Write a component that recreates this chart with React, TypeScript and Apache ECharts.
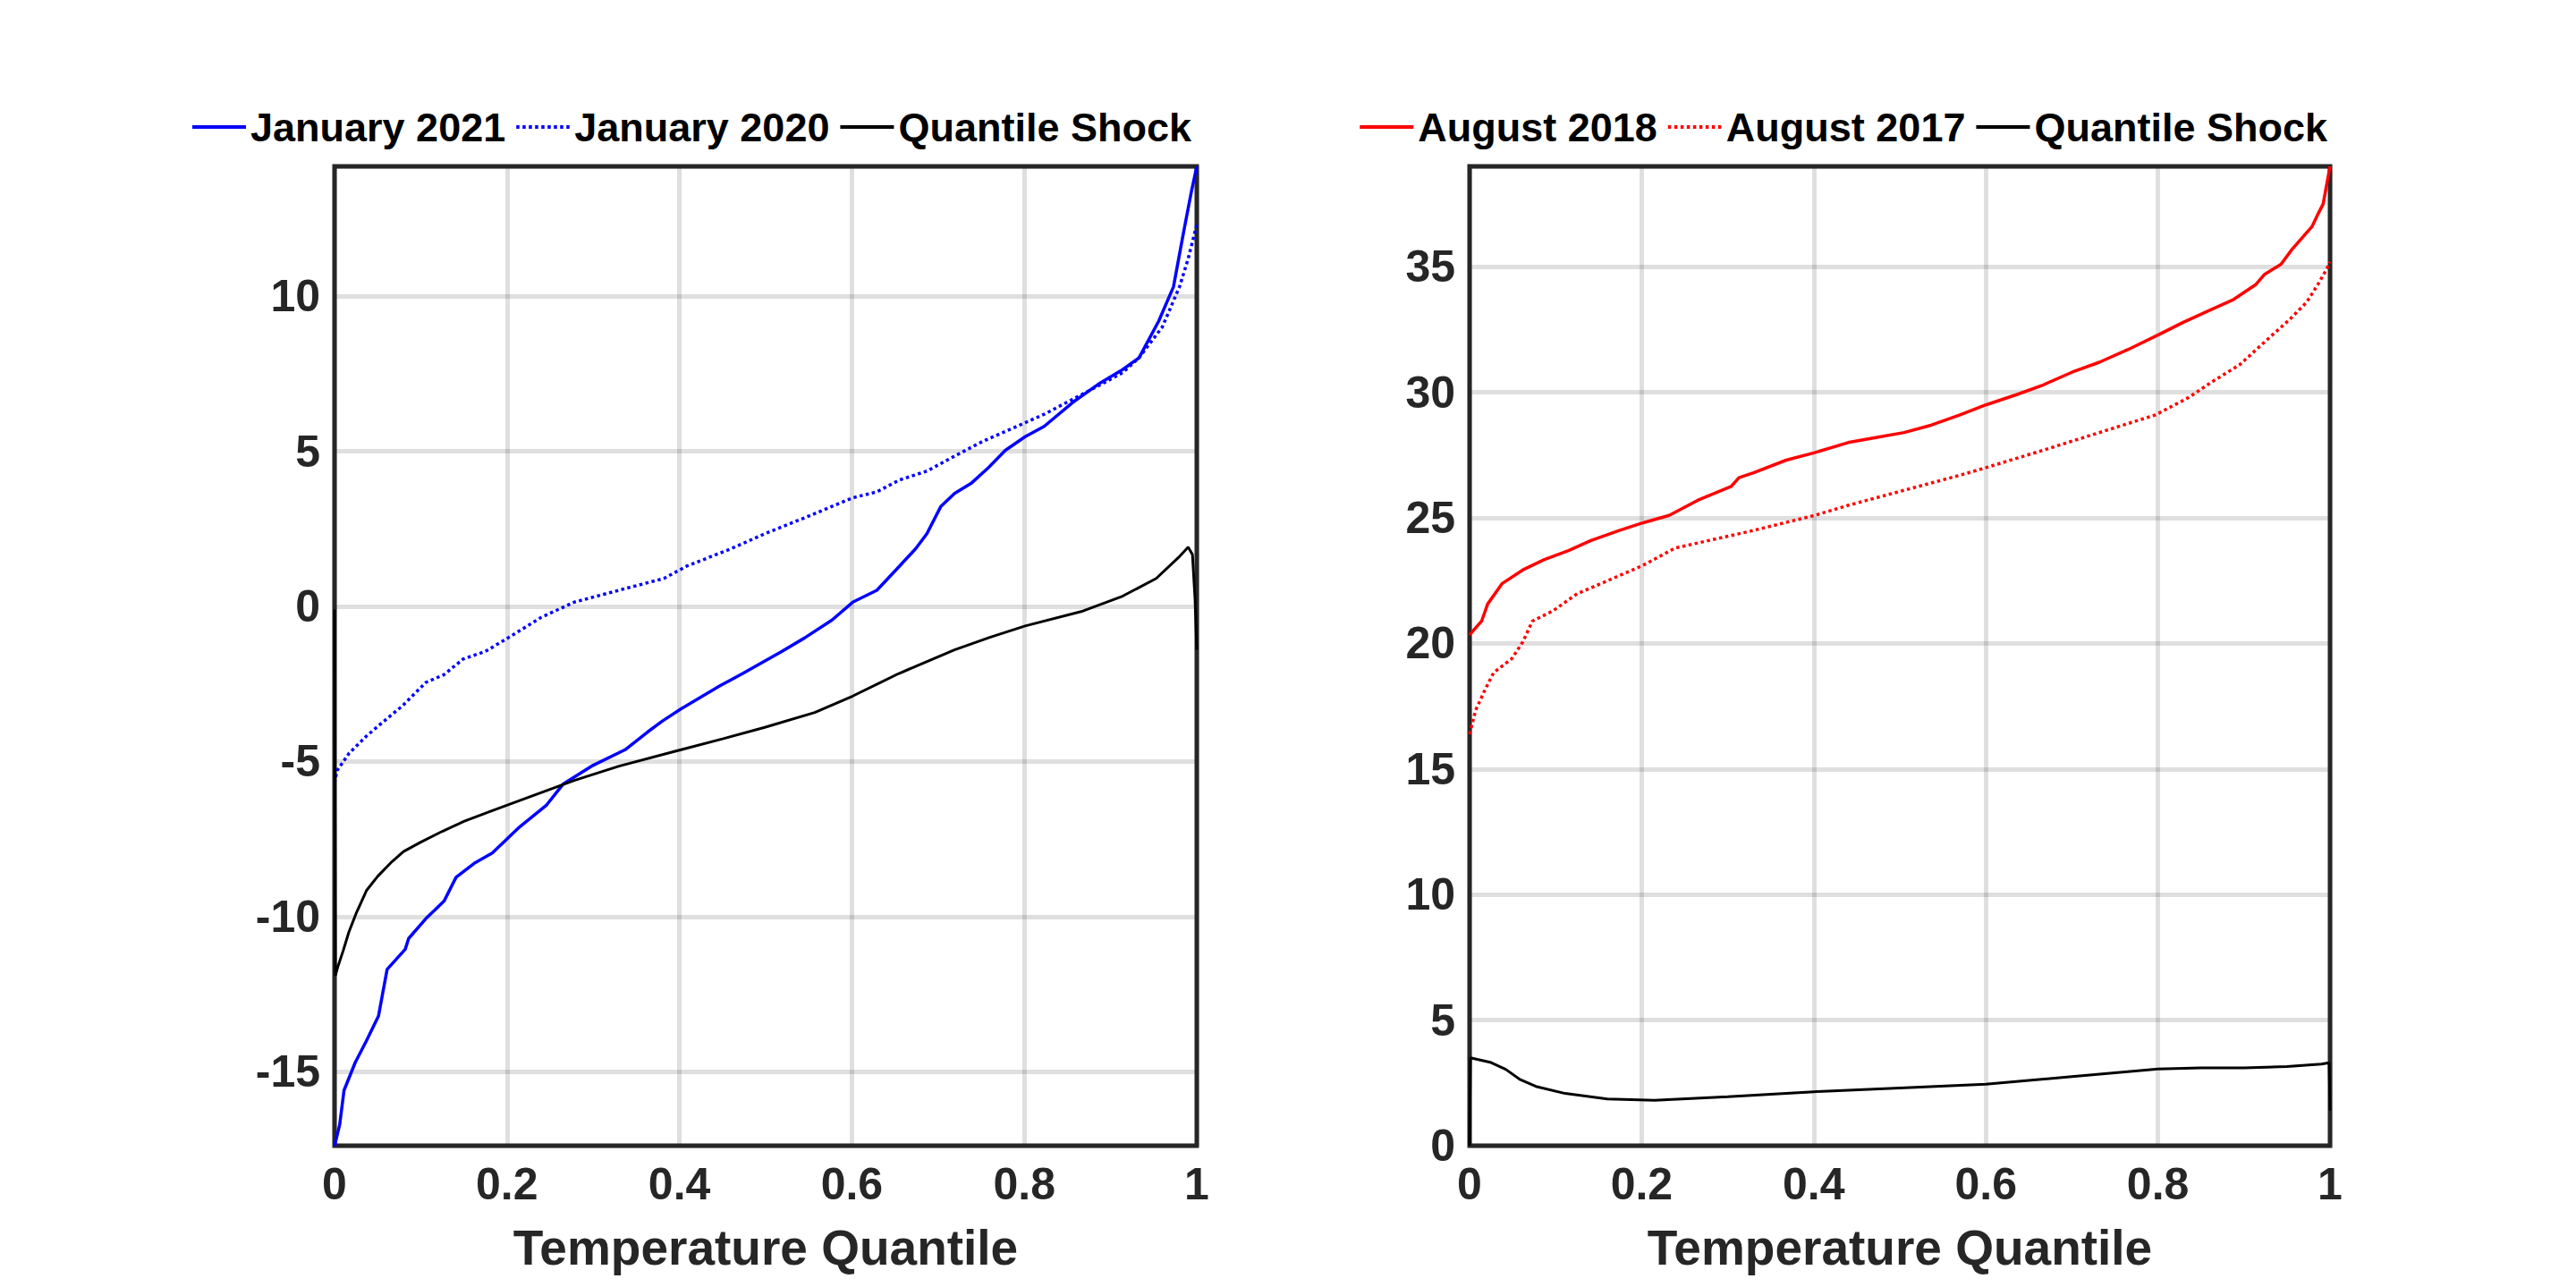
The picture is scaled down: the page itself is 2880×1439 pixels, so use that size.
import React, { useEffect, useRef } from "react";
import * as echarts from "echarts";

const W = 2880;
const H = 1439;

// ---------- Left panel: January ----------
const jan2021Q = [0, 0.006, 0.011, 0.024, 0.037, 0.051, 0.061, 0.082, 0.086, 0.106, 0.127, 0.141, 0.162, 0.183, 0.215, 0.246, 0.265, 0.298, 0.337, 0.363, 0.38, 0.402, 0.447, 0.473, 0.519, 0.545, 0.577, 0.601, 0.629, 0.655, 0.674, 0.687, 0.703, 0.719, 0.739, 0.758, 0.778, 0.801, 0.823, 0.856, 0.888, 0.914, 0.933, 0.956, 0.973, 0.985, 0.994, 1.0];
const jan2021V = [-17.4, -16.7, -15.6, -14.7, -14.0, -13.2, -11.7, -11.05, -10.7, -10.06, -9.5, -8.73, -8.28, -7.95, -7.1, -6.4, -5.73, -5.15, -4.62, -4.05, -3.7, -3.3, -2.56, -2.17, -1.45, -1.02, -0.44, 0.135, 0.52, 1.29, 1.86, 2.34, 3.21, 3.64, 3.98, 4.46, 5.03, 5.47, 5.8, 6.57, 7.2, 7.63, 8.01, 9.2, 10.3, 12.1, 13.4, 14.18];

const jan2020Q = [0, 0.003, 0.017, 0.037, 0.051, 0.079, 0.106, 0.127, 0.149, 0.175, 0.201, 0.24, 0.278, 0.33, 0.382, 0.408, 0.46, 0.499, 0.551, 0.601, 0.629, 0.655, 0.687, 0.719, 0.752, 0.784, 0.823, 0.849, 0.882, 0.914, 0.933, 0.96, 0.98, 0.99, 1.0];
const jan2020V = [-5.7, -5.29, -4.73, -4.18, -3.85, -3.2, -2.45, -2.2, -1.7, -1.45, -1.02, -0.35, 0.135, 0.52, 0.9, 1.29, 1.86, 2.34, 2.92, 3.5, 3.69, 4.07, 4.36, 4.84, 5.32, 5.71, 6.19, 6.57, 7.05, 7.53, 8.01, 9.0, 10.3, 11.2, 12.3];

const shockJanQ = [0, 0.001, 0.004, 0.01, 0.0166, 0.025, 0.037, 0.05, 0.065, 0.08, 0.1, 0.125, 0.15, 0.183, 0.235, 0.278, 0.33, 0.395, 0.45, 0.499, 0.557, 0.601, 0.654, 0.719, 0.76, 0.801, 0.868, 0.914, 0.953, 0.979, 0.99, 0.995, 0.998, 1.0];
const shockJanV = [-0.1, -11.9, -11.6, -11.1, -10.5, -9.9, -9.16, -8.7, -8.27, -7.9, -7.6, -7.25, -6.93, -6.58, -6.05, -5.61, -5.15, -4.67, -4.27, -3.9, -3.42, -2.89, -2.17, -1.4, -1.0, -0.63, -0.15, 0.33, 0.9, 1.58, 1.91, 1.67, 0.23, -1.4];

// ---------- Right panel: August ----------
const aug2018Q = [0, 0.014, 0.021, 0.038, 0.062, 0.087, 0.115, 0.141, 0.174, 0.201, 0.232, 0.265, 0.304, 0.313, 0.33, 0.368, 0.401, 0.44, 0.472, 0.505, 0.537, 0.57, 0.6, 0.635, 0.667, 0.7, 0.732, 0.765, 0.801, 0.83, 0.862, 0.888, 0.914, 0.924, 0.943, 0.956, 0.979, 0.986, 0.992, 1.0];
const aug2018V = [20.34, 20.89, 21.57, 22.39, 22.93, 23.34, 23.7, 24.1, 24.5, 24.8, 25.1, 25.7, 26.25, 26.6, 26.8, 27.3, 27.6, 28.0, 28.2, 28.4, 28.7, 29.1, 29.5, 29.9, 30.3, 30.8, 31.2, 31.7, 32.3, 32.8, 33.3, 33.7, 34.3, 34.7, 35.1, 35.7, 36.6, 37.1, 37.5, 39.0];

const aug2017Q = [0, 0.007, 0.018, 0.028, 0.049, 0.062, 0.073, 0.097, 0.125, 0.153, 0.201, 0.239, 0.278, 0.33, 0.401, 0.44, 0.505, 0.57, 0.6, 0.667, 0.732, 0.797, 0.836, 0.862, 0.895, 0.927, 0.953, 0.973, 0.986, 0.996, 1.0];
const aug2017V = [16.39, 17.34, 18.16, 18.84, 19.39, 20.07, 20.89, 21.3, 21.98, 22.39, 23.1, 23.8, 24.1, 24.5, 25.1, 25.5, 26.1, 26.7, 27.0, 27.7, 28.4, 29.1, 29.8, 30.4, 31.1, 32.1, 32.9, 33.6, 34.3, 34.9, 35.2];

const shockAugQ = [0, 0.001, 0.025, 0.042, 0.059, 0.077, 0.111, 0.16, 0.215, 0.3, 0.4, 0.5, 0.6, 0.7, 0.8, 0.85, 0.9, 0.95, 0.99, 0.999, 1.0];
const shockAugV = [0, 3.5, 3.31, 3.04, 2.63, 2.36, 2.08, 1.86, 1.81, 1.95, 2.15, 2.3, 2.45, 2.75, 3.05, 3.1, 3.1, 3.15, 3.25, 3.3, 1.4];

const legendLeft = ["January 2021", "January 2020", "Quantile Shock"];
const legendRight = ["August 2018", "August 2017", "Quantile Shock"];
const xTitle = "Temperature Quantile";

const FONT = "'Liberation Sans', Arial, Helvetica, sans-serif";
const AX = "#262626";
const GRID_COLOR = "rgba(38,38,38,0.15)";

function pairs(q: number[], v: number[]) {
  return q.map((x, i) => [x, v[i]]);
}

function xAxisCfg(gridIndex: number) {
  return {
    gridIndex,
    type: "value",
    min: 0,
    max: 1,
    interval: 0.2,
    name: xTitle,
    nameLocation: "middle",
    nameGap: 86,
    nameTextStyle: { fontFamily: FONT, fontWeight: "bold", fontSize: 55, color: AX },
    axisLine: { show: false },
    axisTick: { show: false },
    axisLabel: { margin: 18, fontFamily: FONT, fontWeight: "bold", fontSize: 50, color: AX },
    splitLine: { show: true, lineStyle: { color: GRID_COLOR, width: 5 } },
  };
}

function legendCfg(right: number, data: string[]) {
  return {
    right,
    top: 117,
    orient: "horizontal",
    padding: 0,
    itemWidth: 60,
    itemHeight: 20,
    itemGap: 10,
    data,
    itemStyle: { opacity: 0, borderWidth: 0 },
    lineStyle: { width: 4 },
    textStyle: { fontFamily: FONT, fontWeight: "bold", fontSize: 45, color: "#000", lineHeight: 50 },
  };
}

function lineSeries(name: string, x: number, y: number, data: number[][], color: string, width: number, dotted: boolean) {
  return {
    name,
    type: "line",
    xAxisIndex: x,
    yAxisIndex: y,
    data,
    symbol: "none",
    showSymbol: false,
    lineStyle: { color, width, type: dotted ? [3.5, 3.5] : "solid" },
    itemStyle: { color },
  };
}

export default function App() {
  const ref = useRef<HTMLDivElement>(null);
  useEffect(() => {
    const chart = echarts.init(ref.current as HTMLDivElement, null, { renderer: "svg" });
    const yLabel = { margin: 16, fontFamily: FONT, fontWeight: "bold", fontSize: 50, color: AX, showMinLabel: false, showMaxLabel: false };
    const option: any = {
      animation: false,
      backgroundColor: "#ffffff",
      legend: [legendCfg(1548, legendLeft), legendCfg(278, legendRight)],
      grid: [
        { left: 374, right: 1542, top: 186, bottom: 158, show: true, borderColor: AX, borderWidth: 5, backgroundColor: "transparent" },
        { left: 1643, right: 275, top: 186, bottom: 158, show: true, borderColor: AX, borderWidth: 5, backgroundColor: "transparent" },
      ],
      xAxis: [xAxisCfg(0), xAxisCfg(1)],
      yAxis: [
        {
          gridIndex: 0,
          type: "value",
          min: -17.38,
          max: 14.18,
          splitNumber: 6,
          axisLine: { show: false },
          axisTick: { show: false },
          axisLabel: yLabel,
          splitLine: { show: true, lineStyle: { color: GRID_COLOR, width: 5 } },
        },
        {
          gridIndex: 1,
          type: "value",
          min: 0,
          max: 39,
          interval: 5,
          axisLine: { show: false },
          axisTick: { show: false },
          axisLabel: { ...yLabel, showMinLabel: true },
          splitLine: { show: true, lineStyle: { color: GRID_COLOR, width: 5 } },
        },
      ],
      series: [
        lineSeries("January 2021", 0, 0, pairs(jan2021Q, jan2021V), "#0000ff", 3.5, false),
        lineSeries("January 2020", 0, 0, pairs(jan2020Q, jan2020V), "#0000ff", 3.5, true),
        lineSeries("Quantile Shock", 0, 0, pairs(shockJanQ, shockJanV), "#000000", 3, false),
        lineSeries("August 2018", 1, 1, pairs(aug2018Q, aug2018V), "#ff0000", 3.5, false),
        lineSeries("August 2017", 1, 1, pairs(aug2017Q, aug2017V), "#ff0000", 3.5, true),
        lineSeries("Quantile Shock", 1, 1, pairs(shockAugQ, shockAugV), "#000000", 3, false),
      ],
    };
    chart.setOption(option);
    return () => chart.dispose();
  }, []);
  return (
    <div
      ref={ref}
      style={{ position: "absolute", left: 0, top: 0, width: W + "px", height: H + "px", background: "#fff" }}
    />
  );
}
